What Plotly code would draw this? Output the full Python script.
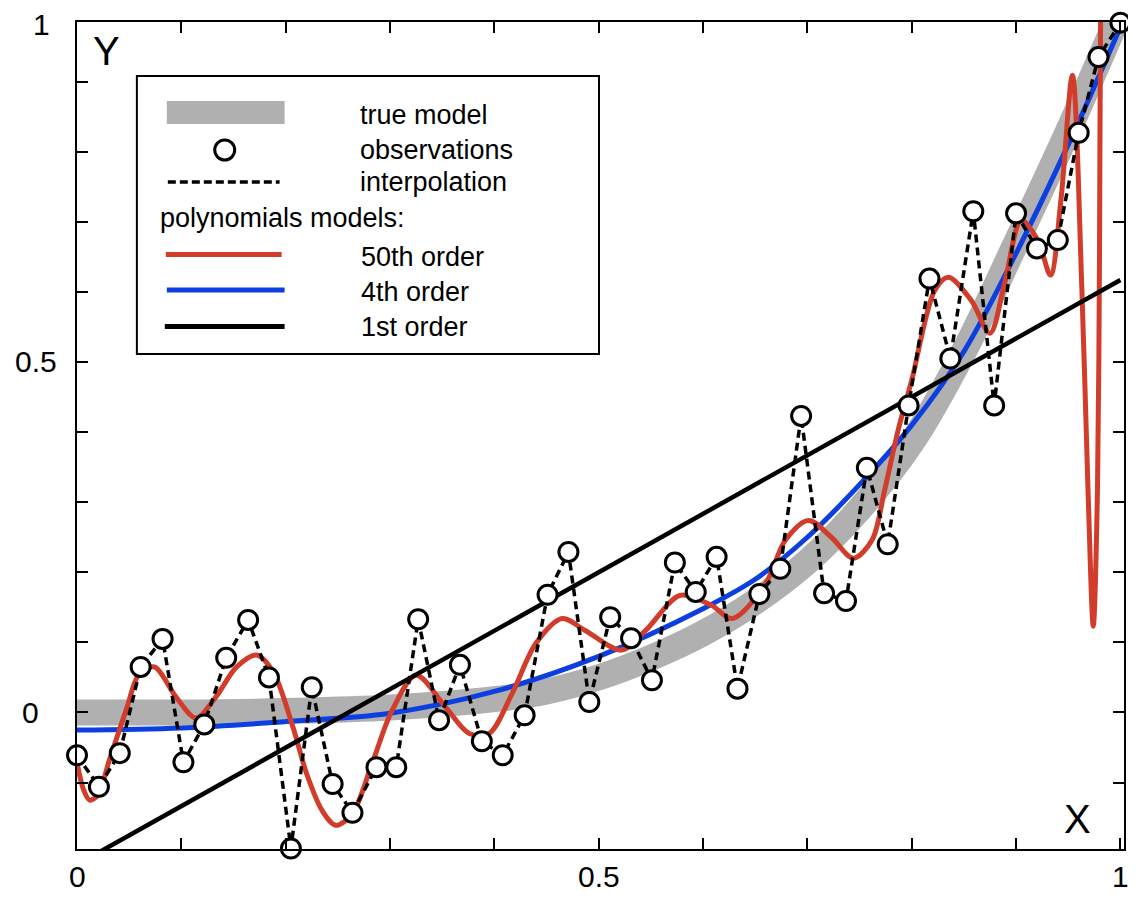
import plotly.graph_objects as go

# ---------------- data ----------------
obs_x = [0.0, 0.021, 0.041, 0.061, 0.082, 0.102, 0.122, 0.143, 0.164, 0.184,
         0.205, 0.225, 0.245, 0.264, 0.287, 0.306, 0.327, 0.347, 0.367, 0.388,
         0.408, 0.429, 0.451, 0.471, 0.491, 0.511, 0.531, 0.551, 0.573, 0.593,
         0.613, 0.633, 0.654, 0.674, 0.694, 0.716, 0.737, 0.757, 0.777, 0.797,
         0.817, 0.837, 0.859, 0.879, 0.9, 0.92, 0.94, 0.96, 0.979, 1.0]
obs_y = [-0.061, -0.106, -0.058, 0.065, 0.105, -0.071, -0.017, 0.078, 0.132, 0.05,
         -0.194, 0.036, -0.102, -0.143, -0.078, -0.078, 0.133, -0.011, 0.068, -0.041,
         -0.061, -0.004, 0.168, 0.229, 0.015, 0.136, 0.106, 0.046, 0.214, 0.172,
         0.222, 0.034, 0.169, 0.205, 0.423, 0.17, 0.159, 0.349, 0.24, 0.438,
         0.619, 0.505, 0.715, 0.438, 0.712, 0.662, 0.674, 0.827, 0.935, 0.984]

true_x = [0.0, 0.1, 0.2, 0.3, 0.4, 0.45, 0.5, 0.55, 0.6, 0.65, 0.7, 0.75, 0.8, 0.85, 0.9, 0.95, 1.0]
true_y = [0.0, 0.0, 0.002, 0.007, 0.019, 0.03, 0.05, 0.078, 0.113, 0.158, 0.215, 0.29, 0.385, 0.515, 0.67, 0.83, 1.0]

fit50_x = [0.0, 0.0065, 0.012, 0.02, 0.031, 0.047, 0.06, 0.074, 0.095, 0.114,
           0.133, 0.153, 0.172, 0.188, 0.207, 0.22, 0.235, 0.248, 0.264, 0.283,
           0.302, 0.325, 0.353, 0.376, 0.395, 0.417, 0.44, 0.465, 0.487, 0.522,
           0.545, 0.578, 0.608, 0.628, 0.66, 0.679, 0.701, 0.723, 0.744, 0.762,
           0.774, 0.787, 0.8, 0.822, 0.835, 0.857, 0.875, 0.889, 0.905, 0.921,
           0.933, 0.943, 0.954, 0.963, 0.969, 0.974, 0.978, 0.98, 0.981, 0.984,
           0.993, 1.0]
fit50_y = [-0.072, -0.111, -0.125, -0.118, -0.068, 0.003, 0.056, 0.065, 0.022, -0.008,
           0.022, 0.065, 0.082, 0.058, -0.021, -0.087, -0.14, -0.161, -0.144, -0.072,
           0.003, 0.053, 0.008, -0.03, -0.03, 0.027, 0.099, 0.134, 0.117, 0.089,
           0.117, 0.167, 0.153, 0.134, 0.184, 0.246, 0.274, 0.25, 0.22, 0.246,
           0.317, 0.403, 0.474, 0.602, 0.621, 0.588, 0.541, 0.612, 0.702, 0.673,
           0.624, 0.731, 0.909, 0.607, 0.315, 0.123, 0.315, 0.665, 0.986, 1.23,
           1.37, 1.0]

fit4_x = [0.0, 0.1, 0.2, 0.3, 0.4, 0.5, 0.6, 0.65, 0.7, 0.75, 0.8, 0.85, 0.9, 0.95, 1.0]
fit4_y = [-0.025, -0.022, -0.013, -0.001, 0.03, 0.08, 0.148, 0.19, 0.25, 0.325, 0.41, 0.515, 0.655, 0.81, 0.978]

fit1_x = [0.0, 1.0]
fit1_y = [-0.217, 0.617]

x_ticks = [0.0, 0.1, 0.2, 0.3, 0.4, 0.5, 0.6, 0.7, 0.8, 0.9, 1.0]
y_ticks = [-0.1, 0.0, 0.1, 0.2, 0.3, 0.4, 0.5, 0.6, 0.7, 0.8, 0.9]
x_label_vals = [0.0, 0.5, 1.0]
x_label_text = ["0", "0.5", "1"]
y_label_text = ["0", "0.5", "1"]

legend_text = ["true model", "observations", "interpolation",
               "polynomials models:", "50th order", "4th order", "1st order"]

# ---------------- styles ----------------
GRAY = "#b0b0b0"
RED = "#d23c2b"
BLUE = "#0c3fe0"
FONT = "Liberation Sans, Arial, Helvetica, sans-serif"
OFF = 8                      # default page margin of the html body
W, H = 1136 - OFF, 902 - OFF
ML, MT = 77 - OFF, 22 - OFF
PW, PH = 1049, 827
MR, MB = W - ML - PW, H - MT - PH


def px(xp):
    """screen pixel x -> paper fraction"""
    return (xp - OFF - ML) / PW


def py(yp):
    """screen pixel y -> paper fraction"""
    return (OFF + MT + PH - yp) / PH


fig = go.Figure()
fig.add_trace(go.Scatter(x=true_x, y=true_y, mode="lines",
                         line=dict(color=GRAY, width=26, shape="spline"), hoverinfo="skip"))
fig.add_trace(go.Scatter(x=fit4_x, y=fit4_y, mode="lines",
                         line=dict(color=BLUE, width=5, shape="spline"), hoverinfo="skip"))
fig.add_trace(go.Scatter(x=fit50_x, y=fit50_y, mode="lines",
                         line=dict(color=RED, width=5, shape="spline", smoothing=0.9), hoverinfo="skip"))
fig.add_trace(go.Scatter(x=fit1_x, y=fit1_y, mode="lines",
                         line=dict(color="black", width=4.5), hoverinfo="skip"))
fig.add_trace(go.Scatter(x=obs_x, y=obs_y, mode="lines+markers",
                         line=dict(color="black", width=3.5, dash="8px,5px"),
                         marker=dict(symbol="circle", size=19, color="white",
                                     line=dict(color="black", width=3)),
                         cliponaxis=False, hoverinfo="skip"))

axis_common = dict(showline=True, linecolor="black", linewidth=2, mirror="ticks",
                   ticks="inside", ticklen=11, tickwidth=2, tickcolor="black",
                   showticklabels=False, showgrid=False, zeroline=False)
fig.update_xaxes(range=[0, PW / 1045.4], tickvals=x_ticks, **axis_common)
fig.update_yaxes(range=[0.985 - PH / 701.0, 0.985], tickvals=y_ticks, **axis_common)

ann = []
# axis tick labels
for v, t in zip(x_label_vals, x_label_text):
    ann.append(dict(x=v, y=py(877), xref="x", yref="paper", text=t, showarrow=False,
                    xanchor="center", yanchor="middle", font=dict(size=30, family=FONT, color="black")))
for t, xp, yv in zip(y_label_text, [30.5, 36, 41], [0.0, 0.5, 0.982]):
    ann.append(dict(x=px(xp), y=yv, xref="paper", yref="y", text=t, showarrow=False,
                    xanchor="center", yanchor="middle", font=dict(size=30, family=FONT, color="black")))
# axis letters
ann.append(dict(x=px(107), y=py(51), xref="paper", yref="paper", text="Y", showarrow=False,
                xanchor="center", yanchor="middle", font=dict(size=40, family=FONT, color="black")))
ann.append(dict(x=px(1079), y=py(819), xref="paper", yref="paper", text="X", showarrow=False,
                xanchor="center", yanchor="middle", font=dict(size=40, family=FONT, color="black")))

# legend texts
leg_pos = [(359, 115), (359, 149.5), (359, 182), (158, 218), (360, 256.5), (360, 291.5), (360, 326.5)]
for t, (xp, yp) in zip(legend_text, leg_pos):
    ann.append(dict(x=px(xp), y=py(yp), xref="paper", yref="paper", text=t, showarrow=False,
                    xanchor="left", yanchor="middle", font=dict(size=27, family=FONT, color="black")))

shapes = [
    dict(type="rect", xref="paper", yref="paper", x0=px(137), x1=px(600), y0=py(354), y1=py(76),
         line=dict(color="black", width=2), fillcolor="white", layer="above"),
    dict(type="rect", xref="paper", yref="paper", x0=px(167), x1=px(285), y0=py(124), y1=py(101),
         line=dict(width=0), fillcolor=GRAY),
    dict(type="circle", xref="paper", yref="paper", x0=px(215), x1=px(235), y0=py(160), y1=py(140),
         line=dict(color="black", width=3), fillcolor="white"),
    dict(type="line", xref="paper", yref="paper", x0=px(168), x1=px(280), y0=py(182), y1=py(182),
         line=dict(color="black", width=3.5, dash="8px,4px")),
    dict(type="line", xref="paper", yref="paper", x0=px(166), x1=px(282), y0=py(254.5), y1=py(254.5),
         line=dict(color=RED, width=5)),
    dict(type="line", xref="paper", yref="paper", x0=px(167), x1=px(285), y0=py(290), y1=py(290),
         line=dict(color=BLUE, width=5)),
    dict(type="line", xref="paper", yref="paper", x0=px(165), x1=px(285), y0=py(326.5), y1=py(326.5),
         line=dict(color="black", width=5)),
]

fig.update_layout(width=W, height=H, margin=dict(l=ML, r=MR, t=MT, b=MB),
                  plot_bgcolor="white", paper_bgcolor="white", showlegend=False,
                  annotations=ann, shapes=shapes, font=dict(family=FONT))

fig.write_html("out.html")
